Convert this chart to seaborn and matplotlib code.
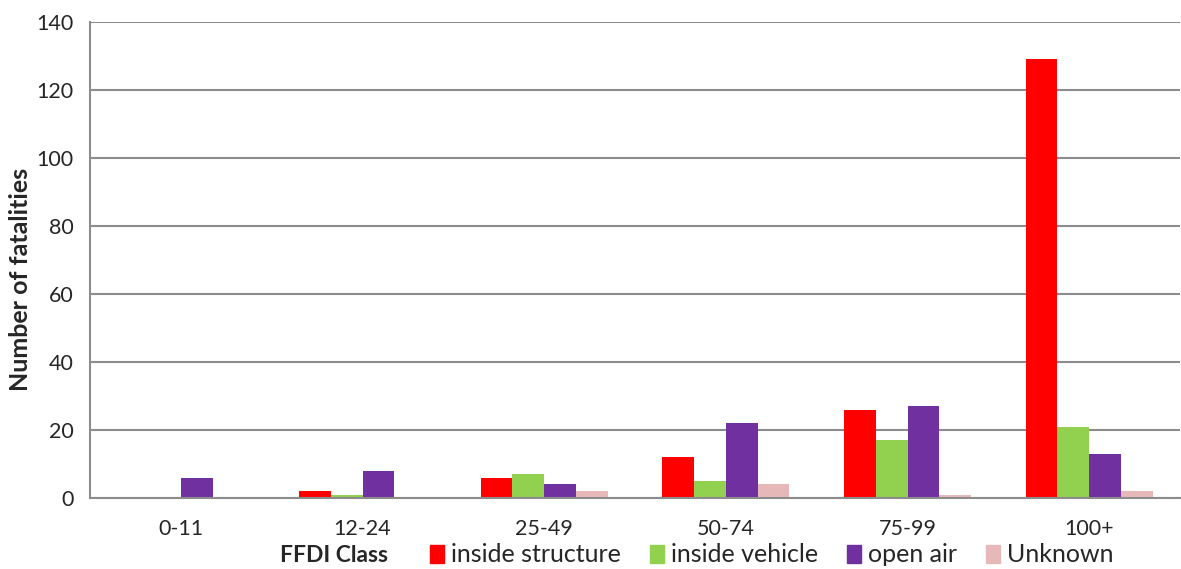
import pandas as pd
import matplotlib.pyplot as plt
import numpy as np
import seaborn as sns

CLASSES = ['0-11', '12-24', '25-49', '50-74', '75-99', '100+']
SERIES = ['inside structure', 'inside vehicle', 'open air', 'Unknown']
INSIDE_STRUCTURE = [0, 2, 6, 12, 26, 129]
INSIDE_VEHICLE = [0, 1, 7, 5, 17, 21]
OPEN_AIR = [6, 8, 4, 22, 27, 13]
UNKNOWN = [0, 0, 2, 4, 1, 2]
COLORS = ['#FF0000', '#92D050', '#7030A0', '#E6B9B8']

sns.set_style('white')
plt.rcParams['font.family'] = ['Lato', 'DejaVu Sans']

rows = []
for name, vals in zip(SERIES, [INSIDE_STRUCTURE, INSIDE_VEHICLE, OPEN_AIR, UNKNOWN]):
    for c, v in zip(CLASSES, vals):
        rows.append({'FFDI Class': c, 'series': name, 'value': v})
df = pd.DataFrame(rows)

fig = plt.figure(figsize=(11.81, 5.69), dpi=100)
ax = fig.add_axes([90 / 1181, 1 - 498 / 569, (1180 - 90) / 1181, (498 - 22) / 569])

sns.barplot(data=df, x='FFDI Class', y='value', hue='series', order=CLASSES,
            hue_order=SERIES, palette=COLORS, width=0.7, saturation=1,
            edgecolor='none', ax=ax)

ax.set_ylim(0, 140)
ax.set_xlim(-0.5, len(CLASSES) - 0.5)
ax.set_yticks(range(0, 141, 20))
ax.yaxis.grid(True, color='#8c8c8c', linewidth=1.5)
ax.set_axisbelow(True)
for s in ['top', 'right']:
    ax.spines[s].set_visible(False)
for s in ['left', 'bottom']:
    ax.spines[s].set_color('#8c8c8c')
    ax.spines[s].set_linewidth(1.5)

ax.tick_params(axis='y', length=6, width=1.5, color='#8c8c8c', labelsize=15.5, pad=6)
ax.tick_params(axis='x', which='major', length=0, labelsize=15.5, pad=15)
ax.set_xticks(np.arange(-0.5, len(CLASSES), 1), minor=True)
ax.tick_params(axis='x', which='minor', length=7, width=1.5, color='#8c8c8c')

ax.set_ylabel('Number of fatalities', fontsize=18, fontweight='bold')
ax.yaxis.set_label_coords(-0.053, 0.46)
ax.set_xlabel('')

ax.legend_.remove()
handles = [plt.Rectangle((0, 0), 1, 1, color=c) for c in COLORS]
fig.legend(handles, SERIES, loc='center left', bbox_to_anchor=(430 / 1181, 1 - 555 / 569),
           ncol=4, frameon=False, fontsize=18, handlelength=0.55, handleheight=0.75,
           handletextpad=0.3, columnspacing=1.15, borderaxespad=0, borderpad=0)
fig.text(280 / 1181, 1 - 555 / 569, 'FFDI Class', fontsize=16.5, fontweight='bold',
         va='center', ha='left')

fig.savefig('out.png', dpi=100)
